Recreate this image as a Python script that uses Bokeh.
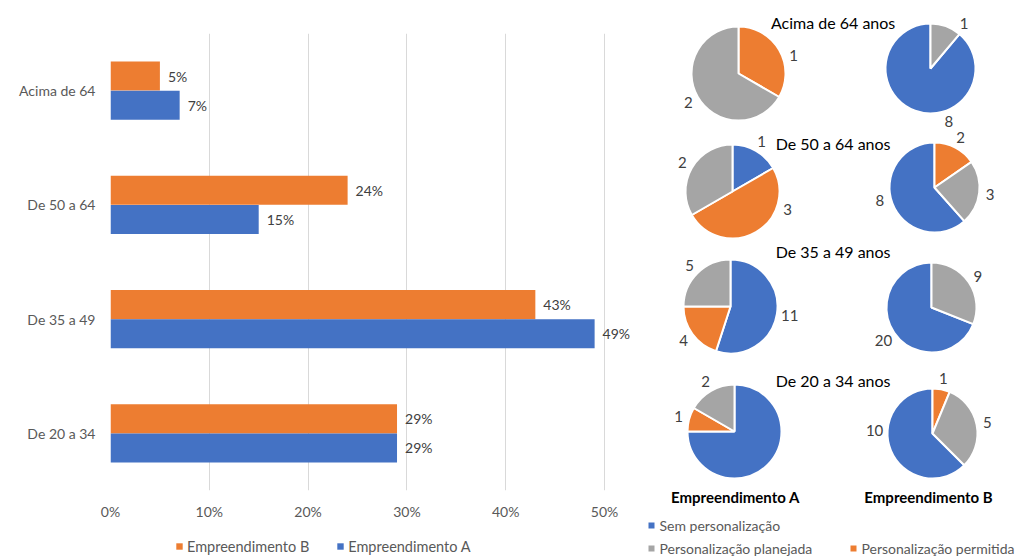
import math
from bokeh.plotting import figure
from bokeh.layouts import row, column
from bokeh.models import (Range1d, FactorRange, ColumnDataSource, FixedTicker,
                          NumeralTickFormatter, Legend, LegendItem)
from bokeh.transform import dodge
from bokeh.core.properties import value
from bokeh.embed import file_html
from bokeh.resources import INLINE

# ---------------- data ----------------
categories = ["Acima de 64", "De 50 a 64", "De 35 a 49", "De 20 a 34"]
emp_b = [0.05, 0.24, 0.43, 0.29]
emp_a = [0.07, 0.15, 0.49, 0.29]
x_ticks = [0, 0.1, 0.2, 0.3, 0.4, 0.5]
bar_series = ["Empreendimento B", "Empreendimento A"]

pie_groups = ["Acima de 64 anos", "De 50 a 64 anos", "De 35 a 49 anos", "De 20 a 34 anos"]
series_names = ["Sem personalização", "Personalização permitida", "Personalização planejada"]
a_sem = [0, 1, 11, 9]
a_perm = [1, 3, 4, 1]
a_plan = [2, 2, 5, 2]
b_sem = [8, 8, 20, 10]
b_perm = [0, 2, 0, 1]
b_plan = [1, 3, 9, 5]

# ---------------- style ----------------
BLUE, ORANGE, GRAY = "#4472C4", "#ED7D31", "#A5A5A5"
FONT = "Lato"
TXT = "#595959"
H = 559
LEG_H = 29

# ---------------- bar chart ----------------
BW = 645
left, right_px, top, bottom = 110, 604, 33, 490
px_per_unit = (right_px - left) / 0.5
p = figure(width=BW, height=H - LEG_H, output_backend="svg", toolbar_location=None,
           y_range=FactorRange(*reversed(categories)),
           x_range=Range1d(0, (BW - left) / px_per_unit),
           min_border_left=left, min_border_right=0, min_border_top=top,
           min_border_bottom=H - LEG_H - bottom)
p.frame_align = False
p.outline_line_color = None

src = ColumnDataSource(dict(cat=categories, a=emp_a, b=emp_b,
                            a_lbl=[f"{round(v*100)}%" for v in emp_a],
                            b_lbl=[f"{round(v*100)}%" for v in emp_b]))
bh = 0.254
p.hbar(y=dodge("cat", bh / 2, range=p.y_range), right="b", left=0, height=bh,
       fill_color=ORANGE, line_color=None, source=src)
p.hbar(y=dodge("cat", -bh / 2, range=p.y_range), right="a", left=0, height=bh,
       fill_color=BLUE, line_color=None, source=src)
for col, lbl, off in (("b", "b_lbl", bh / 2), ("a", "a_lbl", -bh / 2)):
    p.text(x=col, y=dodge("cat", off, range=p.y_range), text=lbl, source=src,
           x_offset=8, text_align="left", text_baseline="middle",
           text_font=value(FONT), text_font_size="14px", text_color="#404040")

p.xaxis.ticker = FixedTicker(ticks=x_ticks)
p.xaxis.formatter = NumeralTickFormatter(format="0%")
p.xgrid.ticker = FixedTicker(ticks=x_ticks)
p.xgrid.grid_line_color = "#D9D9D9"
p.ygrid.grid_line_color = None
for ax in (p.xaxis, p.yaxis):
    ax.axis_line_color = None
    ax.major_tick_line_color = None
    ax.minor_tick_line_color = None
    ax.major_tick_out = 0
    ax.major_tick_in = 0
    ax.minor_tick_out = 0
    ax.major_label_text_font = FONT
    ax.major_label_text_font_size = "14px"
    ax.major_label_text_color = TXT
p.xaxis.major_label_standoff = 12
p.yaxis.major_label_standoff = 15

# legend strip under the bar chart (swatch renderers sit outside the visible range)
lf = figure(width=BW, height=LEG_H, output_backend="svg", toolbar_location=None,
            x_range=Range1d(0, 1), y_range=Range1d(0, 1), min_border=0,
            x_axis_location=None, y_axis_location=None)
lf.frame_align = False
lf.outline_line_color = None
lf.grid.visible = False
rb = lf.hbar(y=[5], left=[5], right=[6], height=0.5, fill_color=ORANGE, line_color=None)
ra = lf.hbar(y=[5], left=[5], right=[6], height=0.5, fill_color=BLUE, line_color=None)
leg = Legend(items=[LegendItem(label=bar_series[0], renderers=[rb]),
                    LegendItem(label=bar_series[1], renderers=[ra])],
             orientation="horizontal", location=(175, 3),
             glyph_width=8, glyph_height=8, label_standoff=4, spacing=27,
             padding=0, margin=0, border_line_color=None,
             background_fill_alpha=0, label_text_font=FONT,
             label_text_font_size="14.5px", label_text_color=TXT,
             label_height=20)
lf.add_layout(leg)

# ---------------- pies ----------------
PW = 1027 - BW
q = figure(frame_width=PW, frame_height=H, output_backend="svg", toolbar_location=None,
           x_range=Range1d(BW, 1027), y_range=Range1d(0, H),
           min_border=0, x_axis_location=None, y_axis_location=None)
q.frame_align = False
q.outline_line_color = None
q.grid.visible = False

def Y(v):
    return H - v

col_x = {"A": [738, 732, 730, 734], "B": [930, 934, 931, 932]}
row_y = {"A": [73, 191, 306, 431], "B": [68, 187, 307, 433]}
radius = {"A": 47, "B": 45}
title_y = [22, 143, 251, 380]
hidden = {("A", 3, 0)}  # label not shown in the original
# label angle (deg clockwise from north) where the original moved it off the mid-angle
label_angle = {("B", 0, 0): 161, ("A", 1, 1): 108, ("B", 3, 0): 273,
               ("B", 1, 0): 257, ("A", 0, 1): 72, ("B", 0, 2): 37}

wx, wy, ws, we, wc, wr = [], [], [], [], [], []
lx, ly, lt = [], [], []
colors = [BLUE, ORANGE, GRAY]
for key, vals in (("A", (a_sem, a_perm, a_plan)), ("B", (b_sem, b_perm, b_plan))):
    for i in range(len(pie_groups)):
        v = [vals[0][i], vals[1][i], vals[2][i]]
        tot = sum(v)
        start = 0.0 if key == "A" else -360.0 * v[0] / tot
        cx, cy, r = col_x[key][i], row_y[key][i], radius[key]
        for k in range(3):
            span = 360.0 * v[k] / tot
            if v[k] > 0:
                a1, a2 = start, start + span
                wx.append(cx); wy.append(Y(cy)); wr.append(r)
                ws.append(math.radians(90 - a1)); we.append(math.radians(90 - a2))
                wc.append(colors[k])
                if (key, i, k) not in hidden:
                    mid = math.radians(label_angle.get((key, i, k), (a1 + a2) / 2))
                    d = r + 11 + 2 * (len(str(v[k])) - 1)
                    lx.append(cx + d * math.sin(mid))
                    ly.append(Y(cy) + d * math.cos(mid))
                    lt.append(str(v[k]))
            start += span

q.wedge(x=wx, y=wy, radius=wr, start_angle=ws, end_angle=we, direction="clock",
        fill_color=wc, line_color="white", line_width=2)
q.text(x=lx, y=ly, text=lt, text_align="center", text_baseline="middle",
       text_font=value(FONT), text_font_size="15px", text_color="#404040")

mid_x = (sum(col_x["A"]) / 4 + sum(col_x["B"]) / 4) / 2
q.text(x=[mid_x] * 4, y=[Y(t) for t in title_y], text=pie_groups,
       text_align="center", text_baseline="middle",
       text_font=value(FONT), text_font_size="16px", text_color="#000000")
q.text(x=[735, 928], y=[Y(496), Y(496)], text=["Empreendimento A", "Empreendimento B"],
       text_align="center", text_baseline="middle", text_font=value(FONT),
       text_font_size="15px", text_font_style="bold", text_color="#000000")

# pie legend
lg_x = [651, 651, 853]
lg_y = [525, 548, 548]
q.scatter(x=lg_x, y=[Y(v) for v in lg_y], marker="square", size=6,
          fill_color=[BLUE, GRAY, ORANGE], line_color=None)
q.text(x=[v + 8 for v in lg_x], y=[Y(v) for v in lg_y],
       text=[series_names[0], series_names[2], series_names[1]],
       text_align="left", text_baseline="middle", text_font=value(FONT),
       text_font_size="14px", text_color=TXT)

layout = row(column(p, lf, spacing=0), q, spacing=0)
open("out.html", "w").write(file_html(layout, INLINE))
